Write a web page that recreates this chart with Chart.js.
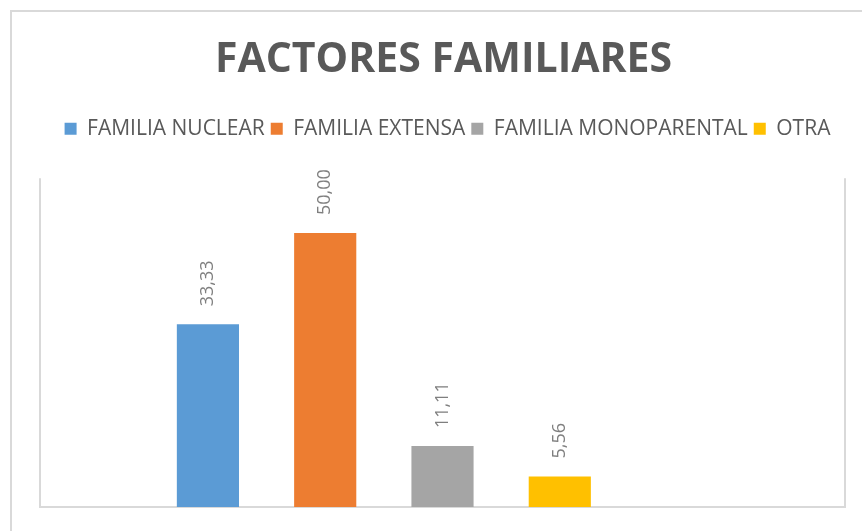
<!DOCTYPE html>
<html>
<head>
<meta charset="utf-8">
<title>Factores familiares</title>
<script src="https://cdn.jsdelivr.net/npm/chart.js@4"></script>
<style>
  body { margin: 0; background: #fff; }
  #wrap { position: relative; width: 862px; height: 531px; overflow: hidden; }
  #frame { position: absolute; left: 10px; top: 10px; width: 900px; height: 600px;
           border-left: 2px solid #d9d9d9; border-top: 2px solid #d9d9d9; pointer-events: none; }
</style>
</head>
<body>
<div id="wrap">
  <canvas id="chart" width="862" height="531"></canvas>
  <div id="frame"></div>
</div>
<script>
// datos
const category = [''];
const seriesNames = ['FAMILIA NUCLEAR', 'FAMILIA EXTENSA', 'FAMILIA MONOPARENTAL', 'OTRA', ''];
const seriesValues = [33.33, 50.00, 11.11, 5.56, null];
const seriesColors = ['#5B9BD5', '#ED7D31', '#A5A5A5', '#FFC000', '#FFFFFF'];

const fmt = (v) => v.toFixed(2).replace('.', ',');

// etiquetas de valor giradas encima de cada barra
const valueLabels = {
  id: 'valueLabels',
  afterDatasetsDraw(chart) {
    const ctx = chart.ctx;
    ctx.save();
    ctx.fillStyle = '#7f7f7f';
    ctx.font = '18px "Open Sans"';
    ctx.textAlign = 'left';
    ctx.textBaseline = 'middle';
    chart.data.datasets.forEach((ds, i) => {
      chart.getDatasetMeta(i).data.forEach((bar, j) => {
        const v = ds.data[j];
        if (v === null || v === undefined) return;
        ctx.save();
        ctx.translate(bar.x, bar.y - 18);
        ctx.rotate(-Math.PI / 2);
        ctx.fillText(fmt(v), 0, 0);
        ctx.restore();
      });
    });
    ctx.restore();
  }
};

// borde gris del area de trazado (izquierda, derecha, abajo)
const plotBorder = {
  id: 'plotBorder',
  beforeDatasetsDraw(chart) {
    const { ctx, chartArea: a } = chart;
    ctx.save();
    ctx.strokeStyle = '#d9d9d9';
    ctx.lineWidth = 2;
    ctx.beginPath();
    ctx.moveTo(a.left, a.top);
    ctx.lineTo(a.left, a.bottom);
    ctx.lineTo(a.right, a.bottom);
    ctx.lineTo(a.right, a.top);
    ctx.stroke();
    ctx.restore();
  }
};

// mas espacio debajo de la leyenda y ajuste horizontal de titulo/leyenda
const legendGap = {
  id: 'legendGap',
  beforeInit(chart) {
    const fit = chart.legend.fit;
    chart.legend.fit = function () {
      fit.call(this);
      this.height += 29;
    };
  },
  afterLayout(chart) {
    chart.legend.left += 9;
    chart.legend.right += 9;
    chart.titleBlock.left += 5;
    chart.titleBlock.right += 5;
  }
};

const datasets = seriesNames.map((name, i) => ({
  label: name,
  data: [seriesValues[i]],
  backgroundColor: seriesColors[i],
  borderWidth: 0
}));

new Chart(document.getElementById('chart'), {
  type: 'bar',
  data: { labels: category, datasets: datasets },
  options: {
    responsive: false,
    animation: false,
    layout: { padding: { left: 32, right: 17, bottom: 16, top: 20 } },
    datasets: { bar: { categoryPercentage: 0.7285, barPercentage: 0.53 } },
    plugins: {
      title: {
        display: true,
        text: 'FACTORES FAMILIARES',
        color: '#595959',
        font: { family: '"Open Sans"', size: 41, weight: 'bold' },
        padding: { top: 16, bottom: 27 }
      },
      legend: {
        display: true,
        labels: {
          color: '#595959',
          font: { family: '"Open Sans"', size: 21 },
          boxWidth: 12,
          boxHeight: 12,
          padding: 6,
          filter: (item) => item.text !== ''
        }
      },
      tooltip: { enabled: false }
    },
    scales: {
      x: {
        grid: { display: false },
        border: { display: false },
        ticks: { display: false }
      },
      y: {
        min: 0,
        max: 60,
        grid: { display: false },
        border: { display: false },
        ticks: { display: false }
      }
    }
  },
  plugins: [plotBorder, valueLabels, legendGap]
});
</script>
</body>
</html>
